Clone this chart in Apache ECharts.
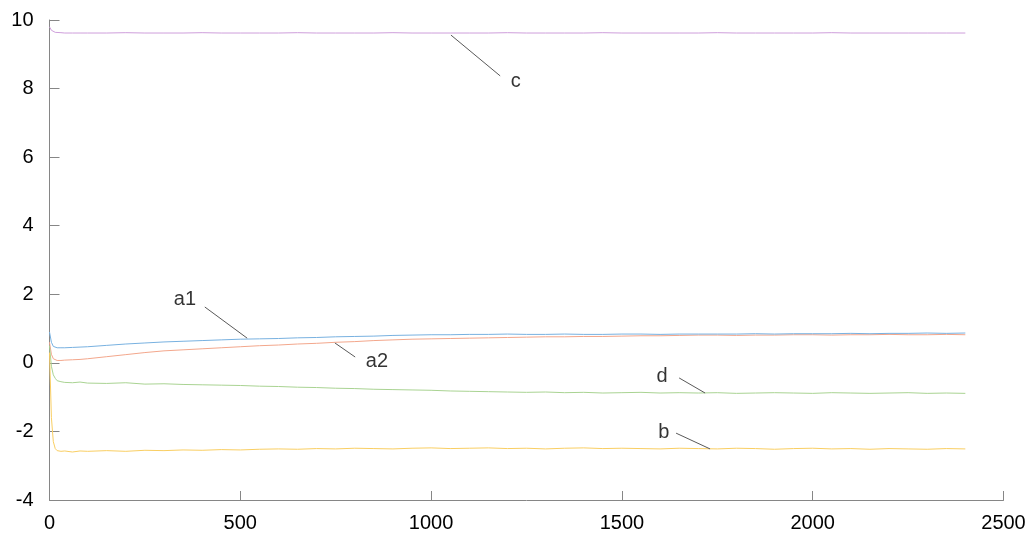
<!DOCTYPE html>
<html>
<head>
<meta charset="utf-8">
<script src="https://cdn.jsdelivr.net/npm/echarts@6/dist/echarts.min.js"></script>
<style>
html,body{margin:0;padding:0;background:#fff;}
#chart{width:1032px;height:537px;}
</style>
</head>
<body>
<div id="chart"></div>
<script>
// ---- data ----
const xs = [0,5,10,15,20,30,40,60,80,
  100,150,200,250,300,350,400,450,500,550,
  600,650,700,750,800,850,900,950,1000,1050,
  1100,1150,1200,1250,1300,1350,1400,1450,1500,1550,
  1600,1650,1700,1750,1800,1850,1900,1950,2000,2050,
  2100,2150,2200,2250,2300,2350,2400];

const cVals = [9.80,9.70,9.66,9.64,9.63,9.63,9.62,9.62,9.62,
  9.62,9.62,9.63,9.62,9.62,9.62,9.63,9.62,9.62,9.62,
  9.62,9.63,9.62,9.62,9.62,9.62,9.63,9.62,9.62,9.62,
  9.62,9.62,9.63,9.62,9.62,9.62,9.62,9.63,9.62,9.62,
  9.62,9.62,9.62,9.63,9.62,9.62,9.62,9.62,9.62,9.63,
  9.62,9.62,9.62,9.62,9.62,9.62,9.62];

const a1Vals = [0.90,0.60,0.48,0.45,0.44,0.44,0.44,0.45,0.46,
  0.47,0.51,0.55,0.58,0.61,0.63,0.65,0.67,0.69,0.70,
  0.71,0.73,0.74,0.76,0.77,0.78,0.80,0.81,0.82,0.82,
  0.83,0.83,0.84,0.83,0.83,0.84,0.83,0.83,0.84,0.84,
  0.83,0.84,0.84,0.84,0.84,0.85,0.84,0.85,0.85,0.85,
  0.86,0.85,0.86,0.86,0.87,0.86,0.87];

const a2Vals = [0.60,0.25,0.12,0.08,0.07,0.07,0.08,0.09,0.10,
  0.12,0.18,0.24,0.30,0.35,0.38,0.41,0.44,0.47,0.50,
  0.52,0.55,0.57,0.60,0.62,0.65,0.67,0.69,0.70,0.71,
  0.72,0.73,0.74,0.75,0.76,0.76,0.77,0.77,0.78,0.79,
  0.79,0.80,0.81,0.81,0.80,0.81,0.81,0.82,0.82,0.81,
  0.82,0.82,0.83,0.82,0.82,0.83,0.82];

const dVals = [0.50,-0.10,-0.35,-0.45,-0.52,-0.55,-0.57,-0.58,-0.56,
  -0.59,-0.60,-0.58,-0.62,-0.61,-0.63,-0.64,-0.65,-0.66,-0.68,
  -0.69,-0.71,-0.72,-0.74,-0.75,-0.77,-0.78,-0.79,-0.80,-0.82,
  -0.83,-0.84,-0.85,-0.86,-0.85,-0.87,-0.86,-0.88,-0.87,-0.86,
  -0.88,-0.87,-0.88,-0.87,-0.89,-0.88,-0.87,-0.88,-0.89,-0.87,
  -0.88,-0.89,-0.88,-0.87,-0.89,-0.88,-0.89];

const bVals = [0.30,-1.60,-2.30,-2.50,-2.56,-2.58,-2.57,-2.60,-2.57,
  -2.58,-2.56,-2.58,-2.55,-2.56,-2.54,-2.55,-2.53,-2.54,-2.52,
  -2.51,-2.52,-2.50,-2.51,-2.49,-2.50,-2.51,-2.49,-2.48,-2.50,
  -2.49,-2.48,-2.50,-2.49,-2.51,-2.49,-2.48,-2.50,-2.49,-2.50,
  -2.51,-2.49,-2.50,-2.51,-2.49,-2.50,-2.52,-2.50,-2.49,-2.51,
  -2.50,-2.52,-2.50,-2.51,-2.52,-2.50,-2.51];

const seriesNames = ['c','a2','a1','d','b'];
const seriesColors = ['#CE9EDB','#F3A78C','#78B1E0','#A9D392','#F9CE62'];
const seriesValues = [cVals, a2Vals, a1Vals, dVals, bVals];

// annotation labels (data coordinates): text position, leader start, leader end
const annoNames = ['c','a1','a2','d','b'];
const annoText  = [[1222,8.22],[355,1.86],[858,0.05],[1605,-0.41],[1610,-2.02]];
const annoFrom  = [[1052,9.56],[407,1.63],[748,0.58],[1650,-0.44],[1642,-2.05]];
const annoTo    = [[1181,8.37],[518,0.72],[801,0.17],[1718,-0.88],[1731,-2.51]];

// ---- chart ----
const FONT = "Arial, 'Liberation Sans', sans-serif";
const axisColor = '#868686';
const chart = echarts.init(document.getElementById('chart'), null, {renderer:'canvas'});

const lineSeries = seriesNames.map((n, i) => ({
  name: n,
  type: 'line',
  data: xs.map((x, j) => [x, seriesValues[i][j]]),
  showSymbol: false,
  symbol: 'none',
  smooth: false,
  lineStyle: {color: seriesColors[i], width: 1},
  itemStyle: {color: seriesColors[i]},
  z: 2
}));

const leaderSeries = {
  name: 'leaders',
  type: 'lines',
  coordinateSystem: 'cartesian2d',
  data: annoFrom.map((f, i) => ({coords: [f, annoTo[i]]})),
  lineStyle: {color: '#595959', width: 1, opacity: 1},
  symbol: 'none',
  silent: true,
  z: 3
};

const textSeries = {
  name: 'labels',
  type: 'scatter',
  data: annoNames.map((n, i) => ({name: n, value: annoText[i]})),
  symbolSize: 0,
  label: {
    show: true,
    position: 'inside',
    formatter: '{b}',
    color: '#000',
    fontSize: 20,
    fontFamily: FONT
  },
  silent: true,
  z: 4
};

chart.setOption({
  animation: false,
  backgroundColor: '#fff',
  grid: {left: 49.5, right: 28.5, top: 20, bottom: 37},
  xAxis: {
    type: 'value', min: 0, max: 2500, interval: 500,
    axisLine: {show: true, onZero: false, lineStyle: {color: axisColor, width: 1}},
    axisTick: {show: true, inside: true, length: 9, lineStyle: {color: axisColor}},
    axisLabel: {color: '#000', fontSize: 20, fontFamily: FONT, margin: 13,
      formatter: v => String(v)},
    splitLine: {show: false}
  },
  yAxis: {
    type: 'value', min: -4, max: 10, interval: 2,
    axisLine: {show: true, onZero: false, lineStyle: {color: axisColor, width: 1}},
    axisTick: {show: true, inside: true, length: 10, lineStyle: {color: axisColor}},
    axisLabel: {color: '#000', fontSize: 20, fontFamily: FONT, margin: 16,
      formatter: v => String(v)},
    splitLine: {show: false}
  },
  series: [...lineSeries, leaderSeries, textSeries]
});
</script>
</body>
</html>
